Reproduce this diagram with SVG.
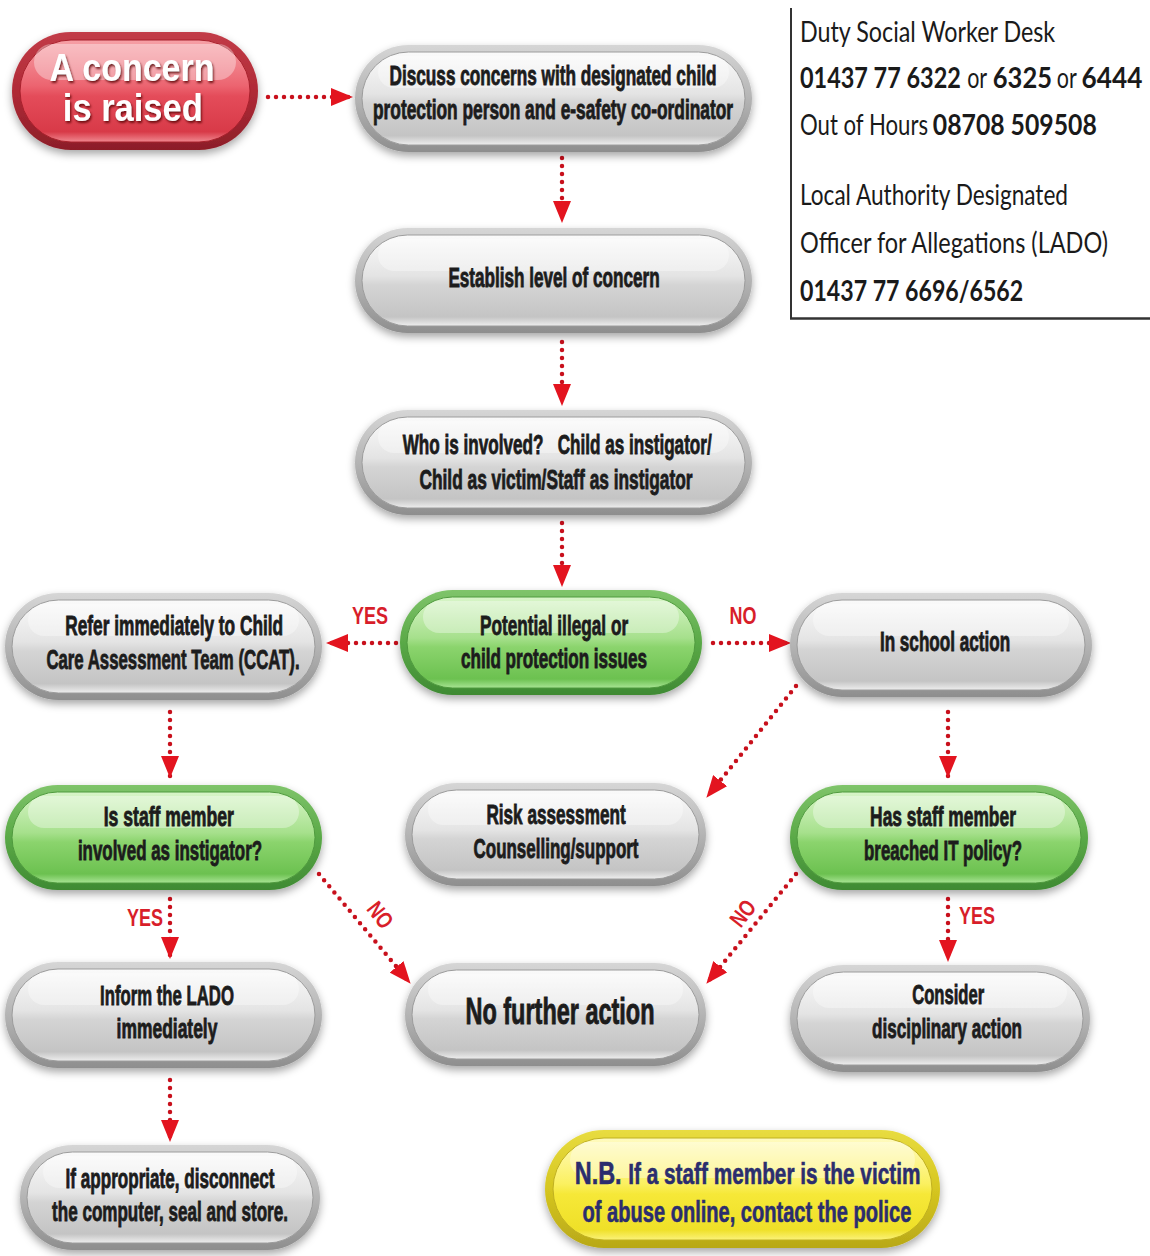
<svg xmlns="http://www.w3.org/2000/svg" width="1150" height="1256" viewBox="0 0 1150 1256">
<defs>
<linearGradient id="bzGrey" x1="0" y1="0" x2="0" y2="1"><stop offset="0" stop-color="#d6d6d6"/><stop offset="0.5" stop-color="#b4b4b4"/><stop offset="1" stop-color="#8e8e8e"/></linearGradient>
<linearGradient id="fcGrey" x1="0" y1="0" x2="0" y2="1"><stop offset="0" stop-color="#fafafa"/><stop offset="0.45" stop-color="#e4e4e4"/><stop offset="0.55" stop-color="#d4d4d4"/><stop offset="0.9" stop-color="#c4c4c4"/><stop offset="1" stop-color="#eeeeee"/></linearGradient>
<linearGradient id="bzGreen" x1="0" y1="0" x2="0" y2="1"><stop offset="0" stop-color="#7fc46a"/><stop offset="0.5" stop-color="#5aa947"/><stop offset="1" stop-color="#3f8a33"/></linearGradient>
<linearGradient id="fcGreen" x1="0" y1="0" x2="0" y2="1"><stop offset="0" stop-color="#d8f5c8"/><stop offset="0.45" stop-color="#a6e08c"/><stop offset="0.55" stop-color="#8bd46d"/><stop offset="0.9" stop-color="#6cc150"/><stop offset="1" stop-color="#a8e494"/></linearGradient>
<linearGradient id="bzRed" x1="0" y1="0" x2="0" y2="1"><stop offset="0" stop-color="#c23c48"/><stop offset="0.5" stop-color="#b02a36"/><stop offset="1" stop-color="#8c1e28"/></linearGradient>
<linearGradient id="fcRed" x1="0" y1="0" x2="0" y2="1"><stop offset="0" stop-color="#f6a0a6"/><stop offset="0.45" stop-color="#ec6470"/><stop offset="0.55" stop-color="#e44c5a"/><stop offset="0.9" stop-color="#d83a48"/><stop offset="1" stop-color="#f08890"/></linearGradient>
<linearGradient id="bzYellow" x1="0" y1="0" x2="0" y2="1"><stop offset="0" stop-color="#e8dc40"/><stop offset="0.5" stop-color="#d6c620"/><stop offset="1" stop-color="#b8a818"/></linearGradient>
<linearGradient id="fcYellow" x1="0" y1="0" x2="0" y2="1"><stop offset="0" stop-color="#fffbc0"/><stop offset="0.45" stop-color="#fbf060"/><stop offset="0.55" stop-color="#f6e838"/><stop offset="0.9" stop-color="#efe028"/><stop offset="1" stop-color="#fbf27a"/></linearGradient>
<filter id="sh" x="-10%" y="-20%" width="120%" height="150%"><feDropShadow dx="0" dy="4" stdDeviation="4" flood-color="#000" flood-opacity="0.35"/></filter>
<filter id="tsh" x="-10%" y="-20%" width="120%" height="150%"><feDropShadow dx="1.5" dy="2" stdDeviation="1" flood-color="#500" flood-opacity="0.8"/></filter>
<marker id="ah" viewBox="0 0 22 18" refX="21" refY="9" markerWidth="22" markerHeight="18" markerUnits="userSpaceOnUse" orient="auto"><path d="M0,0 L22,9 L0,18 z" fill="#e3141f"/></marker>
<style>
.grey .bz{fill:url(#bzGrey);filter:url(#sh)}
.grey .fc{fill:url(#fcGrey);stroke:#9c9c9c;stroke-width:1}
.green .bz{fill:url(#bzGreen);filter:url(#sh)}
.green .fc{fill:url(#fcGreen);stroke:#4f9a3e;stroke-width:1}
.red .bz{fill:url(#bzRed);filter:url(#sh)}
.red .fc{fill:url(#fcRed);stroke:#a8202c;stroke-width:1}
.yellow .bz{fill:url(#bzYellow);filter:url(#sh)}
.yellow .fc{fill:url(#fcYellow);stroke:#c0b020;stroke-width:1}
.hl{fill:#fff;opacity:0.35}
.t{font-family:"Liberation Sans",Arial,sans-serif;font-weight:bold;font-size:28px;fill:#1c1c1c;stroke:#1c1c1c;stroke-width:0.9;text-anchor:middle}
.tw{font-family:"Liberation Sans",Arial,sans-serif;font-weight:bold;font-size:38px;fill:#fff;text-anchor:middle;filter:url(#tsh)}
.tb{font-family:"Liberation Sans",Arial,sans-serif;font-weight:bold;font-size:29px;fill:#2b2d6e;stroke:#2b2d6e;stroke-width:0.6}
.info{font-family:Lato,"Liberation Sans",sans-serif;font-size:29px;fill:#1a1a1a}
.infob{font-weight:bold}
.lbl{font-family:"Liberation Sans",Arial,sans-serif;font-weight:bold;font-size:23px;fill:#d81e2a;text-anchor:middle}
.con{fill:none;stroke:#c8101c;stroke-width:4.5;stroke-linecap:round;stroke-dasharray:0 8;marker-end:url(#ah)}
</style>
</defs>
<rect width="1150" height="1256" fill="#fff"/>

<g id="info">
<line x1="791" y1="8" x2="791" y2="319" stroke="#333" stroke-width="2"/>
<line x1="790" y1="318.5" x2="1150" y2="318.5" stroke="#333" stroke-width="2.5"/>
<g transform="translate(800 0) scale(0.8 1)">
<text class="info" x="0" y="42" textLength="319" lengthAdjust="spacingAndGlyphs">Duty Social Worker Desk</text>
<text class="info infob" x="0" y="88" textLength="201" lengthAdjust="spacingAndGlyphs">01437 77 6322</text>
<text class="info" x="209" y="88" textLength="25" lengthAdjust="spacingAndGlyphs">or</text>
<text class="info infob" x="241" y="88" textLength="74" lengthAdjust="spacingAndGlyphs">6325</text>
<text class="info" x="321" y="88" textLength="25" lengthAdjust="spacingAndGlyphs">or</text>
<text class="info infob" x="352" y="88" textLength="76" lengthAdjust="spacingAndGlyphs">6444</text>
<text class="info" x="0" y="135" textLength="160" lengthAdjust="spacingAndGlyphs">Out of Hours</text>
<text class="info infob" x="166" y="135" textLength="205" lengthAdjust="spacingAndGlyphs">08708 509508</text>
<text class="info" x="0" y="205" textLength="335" lengthAdjust="spacingAndGlyphs">Local Authority Designated</text>
<text class="info" x="0" y="253" textLength="385" lengthAdjust="spacingAndGlyphs">Officer for Allegations (LADO)</text>
<text class="info infob" x="0" y="301" textLength="279" lengthAdjust="spacingAndGlyphs">01437 77 6696/6562</text>
</g>
</g>

<g id="connectors">
<path class="con" d="M268,97 L352,97"/>
<path class="con" d="M562,158 L562,222"/>
<path class="con" d="M562,342 L562,405"/>
<path class="con" d="M562,523 L562,586"/>
<path class="con" d="M396,643 L327,643"/>
<path class="con" d="M713,643 L790,643"/>
<path class="con" d="M170,712 L170,777"/>
<path class="con" d="M796,686 L707,797"/>
<path class="con" d="M948,712 L948,777"/>
<path class="con" d="M170,899 L170,958"/>
<path class="con" d="M319,874 L410,983"/>
<path class="con" d="M796,874 L707,983"/>
<path class="con" d="M948,899 L948,961"/>
<path class="con" d="M170,1080 L170,1141"/>
<text class="lbl" transform="translate(370 624) scale(0.75 1)" x="0" y="0" textLength="48" lengthAdjust="spacingAndGlyphs">YES</text>
<text class="lbl" transform="translate(743 624) scale(0.75 1)" x="0" y="0" textLength="36" lengthAdjust="spacingAndGlyphs">NO</text>
<text class="lbl" transform="translate(145 926) scale(0.75 1)" x="0" y="0" textLength="48" lengthAdjust="spacingAndGlyphs">YES</text>
<text class="lbl" transform="translate(977 924) scale(0.75 1)" x="0" y="0" textLength="48" lengthAdjust="spacingAndGlyphs">YES</text>
<text class="lbl" transform="translate(374,920) rotate(52) scale(0.75 1)" x="0" y="0" textLength="36" lengthAdjust="spacingAndGlyphs">NO</text>
<text class="lbl" transform="translate(749,918) rotate(-52) scale(0.75 1)" x="0" y="0" textLength="36" lengthAdjust="spacingAndGlyphs">NO</text>
</g>

<g id="n1" class="red">
<rect class="bz" x="12" y="32" width="246" height="118" rx="59"/>
<rect class="fc" x="20" y="40" width="230" height="102" rx="51"/>
<rect class="hl" x="34" y="44" width="202" height="36" rx="18"/>
<g transform="translate(132 0) scale(0.8 1)">
<text class="tw" x="0" y="81" textLength="206" lengthAdjust="spacingAndGlyphs">A concern</text>
<text class="tw" x="1" y="121" textLength="175" lengthAdjust="spacingAndGlyphs">is raised</text>
</g>
</g>

<g id="n2" class="grey">
<rect class="bz" x="355" y="45" width="397" height="107" rx="53.5"/>
<rect class="fc" x="362" y="52" width="383" height="93" rx="46.5"/>
<rect class="hl" x="378" y="56" width="351" height="32" rx="16"/>
<g transform="translate(553 0) scale(0.6 1)">
<text class="t" x="0" y="85" textLength="545" lengthAdjust="spacingAndGlyphs">Discuss concerns with designated child</text>
<text class="t" x="0" y="119" textLength="600" lengthAdjust="spacingAndGlyphs">protection person and e-safety co-ordinator</text>
</g>
</g>

<g id="n3" class="grey">
<rect class="bz" x="355" y="228" width="397" height="105" rx="52.5"/>
<rect class="fc" x="362" y="235" width="383" height="91" rx="45.5"/>
<rect class="hl" x="378" y="239" width="351" height="32" rx="16"/>
<g transform="translate(554 0) scale(0.6 1)">
<text class="t" x="0" y="287" textLength="352" lengthAdjust="spacingAndGlyphs">Establish level of concern</text>
</g>
</g>

<g id="n4" class="grey">
<rect class="bz" x="355" y="410" width="397" height="105" rx="52.5"/>
<rect class="fc" x="362" y="417" width="383" height="91" rx="45.5"/>
<rect class="hl" x="378" y="421" width="351" height="32" rx="16"/>
<g transform="translate(556 0) scale(0.6 1)">
<text class="t" x="2" y="454" textLength="515" lengthAdjust="spacingAndGlyphs" xml:space="preserve">Who is involved?   Child as instigator/</text>
<text class="t" x="0" y="489" textLength="455" lengthAdjust="spacingAndGlyphs">Child as victim/Staff as instigator</text>
</g>
</g>

<g id="n5" class="green">
<rect class="bz" x="400" y="590" width="302" height="105" rx="52.5"/>
<rect class="fc" x="407" y="597" width="288" height="91" rx="45.5"/>
<rect class="hl" x="423" y="601" width="256" height="32" rx="16"/>
<g transform="translate(554 0) scale(0.6 1)">
<text class="t" x="0" y="635" textLength="247" lengthAdjust="spacingAndGlyphs">Potential illegal or</text>
<text class="t" x="0" y="668" textLength="310" lengthAdjust="spacingAndGlyphs">child protection issues</text>
</g>
</g>

<g id="n6" class="grey">
<rect class="bz" x="5" y="593" width="317" height="107" rx="53.5"/>
<rect class="fc" x="12" y="600" width="303" height="93" rx="46.5"/>
<rect class="hl" x="28" y="604" width="271" height="32" rx="16"/>
<g transform="translate(173 0) scale(0.6 1)">
<text class="t" x="2" y="635" textLength="363" lengthAdjust="spacingAndGlyphs">Refer immediately to Child</text>
<text class="t" x="0" y="669" textLength="422" lengthAdjust="spacingAndGlyphs">Care Assessment Team (CCAT).</text>
</g>
</g>

<g id="n7" class="grey">
<rect class="bz" x="790" y="593" width="302" height="104" rx="52"/>
<rect class="fc" x="797" y="600" width="288" height="90" rx="45"/>
<rect class="hl" x="813" y="604" width="256" height="32" rx="16"/>
<g transform="translate(945 0) scale(0.6 1)">
<text class="t" x="0" y="651" textLength="217" lengthAdjust="spacingAndGlyphs">In school action</text>
</g>
</g>

<g id="n8" class="green">
<rect class="bz" x="5" y="785" width="317" height="105" rx="52.5"/>
<rect class="fc" x="12" y="792" width="303" height="91" rx="45.5"/>
<rect class="hl" x="28" y="796" width="271" height="32" rx="16"/>
<g transform="translate(170 0) scale(0.6 1)">
<text class="t" x="-2" y="826" textLength="217" lengthAdjust="spacingAndGlyphs">Is staff member</text>
<text class="t" x="0" y="860" textLength="307" lengthAdjust="spacingAndGlyphs">involved as instigator?</text>
</g>
</g>

<g id="n9" class="grey">
<rect class="bz" x="405" y="783" width="301" height="103" rx="51.5"/>
<rect class="fc" x="412" y="790" width="287" height="89" rx="44.5"/>
<rect class="hl" x="428" y="794" width="255" height="31" rx="15.5"/>
<g transform="translate(556 0) scale(0.6 1)">
<text class="t" x="0" y="824" textLength="232" lengthAdjust="spacingAndGlyphs">Risk assessment</text>
<text class="t" x="0" y="858" textLength="275" lengthAdjust="spacingAndGlyphs">Counselling/support</text>
</g>
</g>

<g id="n10" class="green">
<rect class="bz" x="790" y="785" width="298" height="105" rx="52.5"/>
<rect class="fc" x="797" y="792" width="284" height="91" rx="45.5"/>
<rect class="hl" x="813" y="796" width="252" height="32" rx="16"/>
<g transform="translate(943 0) scale(0.6 1)">
<text class="t" x="0" y="826" textLength="243" lengthAdjust="spacingAndGlyphs">Has staff member</text>
<text class="t" x="0" y="860" textLength="263" lengthAdjust="spacingAndGlyphs">breached IT policy?</text>
</g>
</g>

<g id="n11" class="grey">
<rect class="bz" x="5" y="962" width="317" height="106" rx="53"/>
<rect class="fc" x="12" y="969" width="303" height="92" rx="46"/>
<rect class="hl" x="28" y="973" width="271" height="32" rx="16"/>
<g transform="translate(167 0) scale(0.6 1)">
<text class="t" x="0" y="1005" textLength="223" lengthAdjust="spacingAndGlyphs">Inform the LADO</text>
<text class="t" x="0" y="1038" textLength="168" lengthAdjust="spacingAndGlyphs">immediately</text>
</g>
</g>

<g id="n12" class="grey">
<rect class="bz" x="405" y="963" width="301" height="103" rx="51.5"/>
<rect class="fc" x="412" y="970" width="287" height="89" rx="44.5"/>
<rect class="hl" x="428" y="974" width="255" height="31" rx="15.5"/>
<g transform="translate(560 0) scale(0.6 1)">
<text class="t" x="0" y="1024" style="font-size:37px" textLength="315" lengthAdjust="spacingAndGlyphs">No further action</text>
</g>
</g>

<g id="n13" class="grey">
<rect class="bz" x="790" y="965" width="300" height="107" rx="53.5"/>
<rect class="fc" x="797" y="972" width="286" height="93" rx="46.5"/>
<rect class="hl" x="813" y="976" width="254" height="32" rx="16"/>
<g transform="translate(947 0) scale(0.6 1)">
<text class="t" x="2" y="1004" textLength="120" lengthAdjust="spacingAndGlyphs">Consider</text>
<text class="t" x="0" y="1038" textLength="250" lengthAdjust="spacingAndGlyphs">disciplinary action</text>
</g>
</g>

<g id="n14" class="grey">
<rect class="bz" x="20" y="1145" width="300" height="105" rx="52.5"/>
<rect class="fc" x="27" y="1152" width="286" height="91" rx="45.5"/>
<rect class="hl" x="43" y="1156" width="254" height="32" rx="16"/>
<g transform="translate(170 0) scale(0.6 1)">
<text class="t" x="0" y="1188" textLength="348" lengthAdjust="spacingAndGlyphs">If appropriate, disconnect</text>
<text class="t" x="0" y="1221" textLength="393" lengthAdjust="spacingAndGlyphs">the computer, seal and store.</text>
</g>
</g>

<g id="n15" class="yellow">
<rect class="bz" x="545" y="1130" width="395" height="118" rx="59"/>
<rect class="fc" x="553" y="1138" width="379" height="102" rx="51"/>
<rect class="hl" x="570" y="1142" width="345" height="36" rx="18"/>
<g transform="translate(747 0) scale(0.6 1)">
<text class="tb" x="-287" y="1184" style="font-size:31px" textLength="78" lengthAdjust="spacingAndGlyphs">N.B.</text>
<text class="tb" x="-198" y="1184" textLength="487" lengthAdjust="spacingAndGlyphs">If a staff member is the victim</text>
<text class="tb" x="0" y="1222" text-anchor="middle" textLength="548" lengthAdjust="spacingAndGlyphs">of abuse online, contact the police</text>
</g>
</g>
</svg>
